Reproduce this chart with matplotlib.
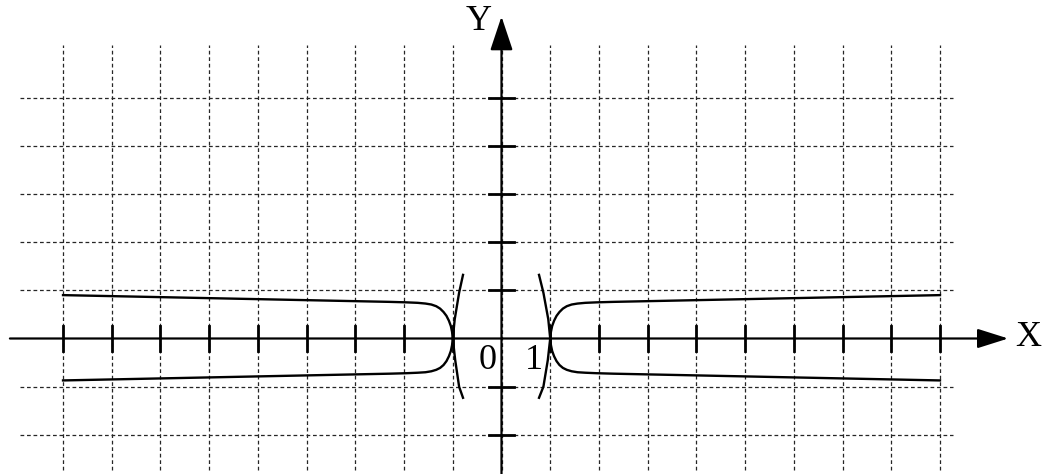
import matplotlib
matplotlib.use("Agg")
import matplotlib.pyplot as plt
import numpy as np

# ---- data ----
grid_x = list(range(-9, 10))          # vertical grid lines
grid_y = [-2, -1, 1, 2, 3, 4, 5]      # horizontal grid lines
xtick_vals = [v for v in range(-9, 10) if v != 0]
ytick_vals = [-2, -1, 1, 2, 3, 4, 5]

# right main branch (x>0)
branch_x = [1.0, 1.015, 1.04, 1.08, 1.13, 1.19, 1.26, 1.34, 1.44, 1.56, 1.72, 1.95, 2.3, 9.0]
branch_upper = [0.0, 0.14, 0.26, 0.37, 0.47, 0.55, 0.62, 0.67, 0.705, 0.725, 0.74, 0.75, 0.76, 0.90]
branch_lower = [0.0, -0.14, -0.26, -0.37, -0.47, -0.55, -0.61, -0.65, -0.68, -0.70, -0.71, -0.72, -0.73, -0.87]

# small arcs through x = -1 and x = 1
arc_y = [1.32, 0.95, 0.40, 0.0, -0.45, -1.0, -1.23]
arc_left_x = [-0.79, -0.87, -0.96, -1.0, -0.95, -0.87, -0.79]
arc_right_x = [0.77, 0.86, 0.96, 1.0, 0.95, 0.86, 0.77]

labels_origin = ["0", "1"]

# ---- figure ----
fig = plt.figure(figsize=(10.42, 4.74), dpi=100)
ax = fig.add_axes([0, 0, 1, 1])
ux, uy = 48.72, 48.2
ox, oy = 501.5, 338.5
ax.set_xlim(-ox / ux, (1042 - ox) / ux)
ax.set_ylim(-(474 - oy) / uy, oy / uy)
ax.axis("off")

grid_kw = dict(color="#262626", lw=0.9, linestyle=(0, (3, 2.2)), zorder=1)
for gx in grid_x:
    ax.plot([gx, gx], [-2.72, 6.09], **grid_kw)
for gy in grid_y:
    ax.plot([-9.88, 9.27], [gy, gy], **grid_kw)

# axes with arrows
ax.annotate("", xy=(10.40, 0), xytext=(-10.09, 0),
            arrowprops=dict(arrowstyle="-|>,head_length=1.9,head_width=0.6",
                            lw=1.6, color="black", shrinkA=0, shrinkB=0),
            zorder=3)
ax.annotate("", xy=(0, 6.68), xytext=(0, -2.9),
            arrowprops=dict(arrowstyle="-|>,head_length=2.1,head_width=0.7",
                            lw=1.6, color="black", shrinkA=0, shrinkB=0),
            zorder=3)

# ticks
for tx in xtick_vals:
    ax.plot([tx, tx], [-0.25, 0.25], color="black", lw=2.0, zorder=3)
for ty in ytick_vals:
    ax.plot([-0.25, 0.25], [ty, ty], color="black", lw=2.0, zorder=3)

# curves
bx = np.array(branch_x)
bu = np.array(branch_upper)
bl = np.array(branch_lower)
for sgn in (1, -1):
    ax.plot(sgn * bx, bu, color="black", lw=1.7, zorder=4)
    ax.plot(sgn * bx, bl, color="black", lw=1.7, zorder=4)
ax.plot(arc_left_x, arc_y, color="black", lw=1.7, zorder=4)
ax.plot(arc_right_x, arc_y, color="black", lw=1.7, zorder=4)

# labels
font = dict(family="Liberation Serif", fontsize=26, color="black")
ax.text(10.81, 0.03, "X", ha="center", va="center", **font)
ax.text(-0.46, 6.57, "Y", ha="center", va="center", **font)
ax.text(-0.28, -0.45, labels_origin[0], ha="center", va="center", **font)
ax.text(0.67, -0.45, labels_origin[1], ha="center", va="center", **font)

fig.savefig("out.png", dpi=100)
